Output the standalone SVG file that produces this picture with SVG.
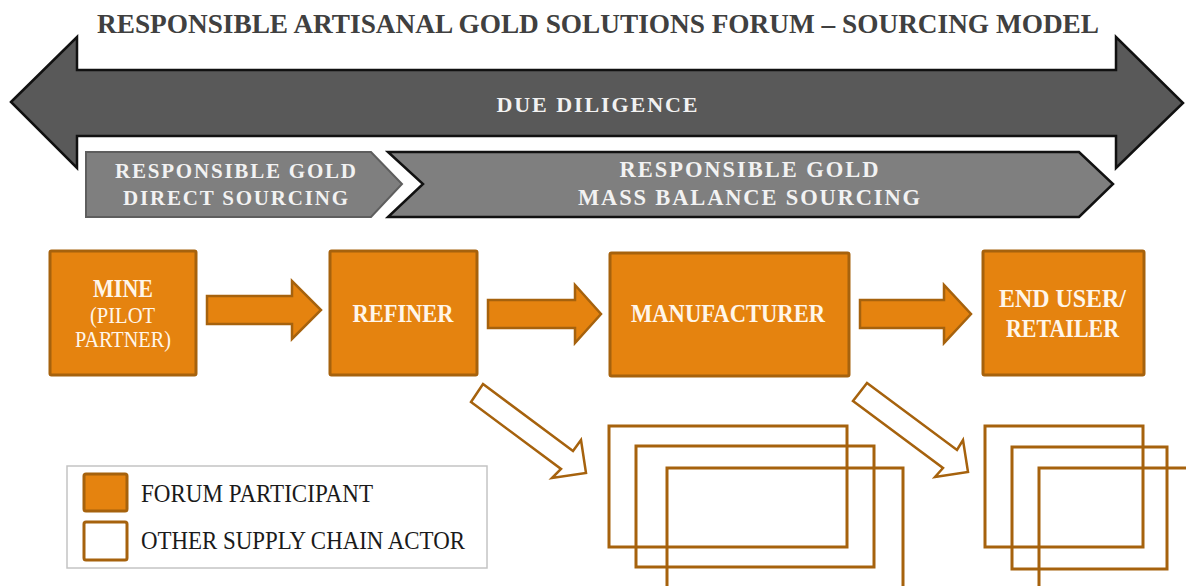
<svg xmlns="http://www.w3.org/2000/svg" width="1186" height="586" viewBox="0 0 1186 586">
<style>
.title{font-family:"Liberation Serif",serif;font-weight:bold;font-size:28px;fill:#404040}
.band{font-family:"Liberation Serif",serif;font-weight:bold;fill:#F2F2F2}
.box{fill:#E5830F;stroke:#A6620D;stroke-width:3}
.lbl{font-family:"Liberation Serif",serif;font-weight:bold;font-size:26px;fill:#FFF6EA;text-anchor:middle}
.sub{font-family:"Liberation Serif",serif;font-size:23px;fill:#FFF6EA;text-anchor:middle}
.flow{fill:#E5830F;stroke:#A6620D;stroke-width:2.5;stroke-linejoin:miter}
.hollow{fill:#FFFFFF;stroke:#A6620D;stroke-width:2.5;stroke-linejoin:miter}
.other{fill:none;stroke:#A6620D;stroke-width:3}
.leg{font-family:"Liberation Serif",serif;font-size:25px;fill:#1a1a1a}
</style>
<rect width="1186" height="586" fill="#FFFFFF"/>
<text class="title" x="598" y="33" text-anchor="middle" textLength="1002" lengthAdjust="spacingAndGlyphs">RESPONSIBLE ARTISANAL GOLD SOLUTIONS FORUM – SOURCING MODEL</text>

<g id="due-diligence">
<polygon points="11,102 77,37 77,70 1116,70 1116,37 1183,103 1116,168 1116,136 77,136 77,168" fill="#595959" stroke="#111111" stroke-width="2.5" stroke-linejoin="miter"/>
<text class="band" x="597" y="112" font-size="22" text-anchor="middle" textLength="201" lengthAdjust="spacing">DUE DILIGENCE</text>
</g>

<g id="direct-sourcing">
<polygon points="86,152 371,152 402,184 371,217 86,217" fill="#7F7F7F" stroke="#5E5E5E" stroke-width="2"/>
<text class="band" x="235.5" y="178" font-size="21" text-anchor="middle" textLength="241" lengthAdjust="spacing">RESPONSIBLE GOLD</text>
<text class="band" x="235.5" y="205" font-size="21" text-anchor="middle" textLength="225" lengthAdjust="spacing">DIRECT SOURCING</text>
</g>

<g id="mass-balance-sourcing">
<polygon points="388,152 1079,152 1113,184 1079,217 388,217 423,184" fill="#7F7F7F" stroke="#111111" stroke-width="2.5"/>
<text class="band" x="749" y="177" font-size="22.5" text-anchor="middle" textLength="259" lengthAdjust="spacing">RESPONSIBLE GOLD</text>
<text class="band" x="749" y="205" font-size="22.5" text-anchor="middle" textLength="342" lengthAdjust="spacing">MASS BALANCE SOURCING</text>
</g>

<g id="connectors">
<polygon class="flow" points="207,296 292,296 292,281 321,310 292,339 292,324 207,324"/>
<polygon class="flow" points="488,300 575,300 575,285 601,314 575,343 575,328 488,328"/>
<polygon class="flow" points="860,300 944,300 944,285 971,314 944,343 944,328 860,328"/>
<polygon class="hollow" points="483,384 573,451 581,440 586,473 552,478 561,469 471,402"/>
<polygon class="hollow" points="867,383 957,450 963,440 968,472 935,477 943,468 853,401"/>
</g>

<g id="mine">
<rect class="box" x="50" y="251" width="146" height="124" rx="1.5"/>
<text class="lbl" x="123" y="297" textLength="60" lengthAdjust="spacingAndGlyphs">MINE</text>
<text class="sub" x="122.5" y="323" textLength="65" lengthAdjust="spacingAndGlyphs">(PILOT</text>
<text class="sub" x="123" y="347" textLength="96" lengthAdjust="spacingAndGlyphs">PARTNER)</text>
</g>

<g id="refiner">
<rect class="box" x="330" y="251" width="147" height="124" rx="1.5"/>
<text class="lbl" x="403" y="322" textLength="101" lengthAdjust="spacingAndGlyphs">REFINER</text>
</g>

<g id="manufacturer">
<rect class="box" x="610" y="253" width="239" height="123" rx="1.5"/>
<text class="lbl" x="728" y="322" textLength="194" lengthAdjust="spacingAndGlyphs">MANUFACTURER</text>
</g>

<g id="end-user-retailer">
<rect class="box" x="983" y="251" width="161" height="124" rx="1.5"/>
<text class="lbl" x="1062.5" y="307" textLength="127" lengthAdjust="spacingAndGlyphs">END USER/</text>
<text class="lbl" x="1062.5" y="337" textLength="113" lengthAdjust="spacingAndGlyphs">RETAILER</text>
</g>

<g id="other-actors-manufacturer">
<rect class="other" x="609" y="426" width="238" height="121"/>
<rect class="other" x="636" y="446" width="238" height="121"/>
<rect class="other" x="667" y="468" width="236" height="140"/>
</g>

<g id="other-actors-retailer">
<rect class="other" x="985" y="426" width="158" height="121"/>
<rect class="other" x="1012" y="447" width="155" height="122"/>
<rect class="other" x="1039" y="468" width="170" height="140"/>
</g>

<g id="legend">
<rect x="67" y="466" width="420" height="102" fill="#FFFFFF" stroke="#C4C4C4" stroke-width="1.5"/>
<rect class="box" x="84" y="474" width="43" height="37" rx="2"/>
<rect x="84" y="522" width="43" height="38" rx="2" fill="#FFFFFF" stroke="#A6620D" stroke-width="3"/>
<text class="leg" x="141" y="502" textLength="232" lengthAdjust="spacingAndGlyphs">FORUM PARTICIPANT</text>
<text class="leg" x="141" y="549" textLength="324" lengthAdjust="spacingAndGlyphs">OTHER SUPPLY CHAIN ACTOR</text>
</g>
</svg>
